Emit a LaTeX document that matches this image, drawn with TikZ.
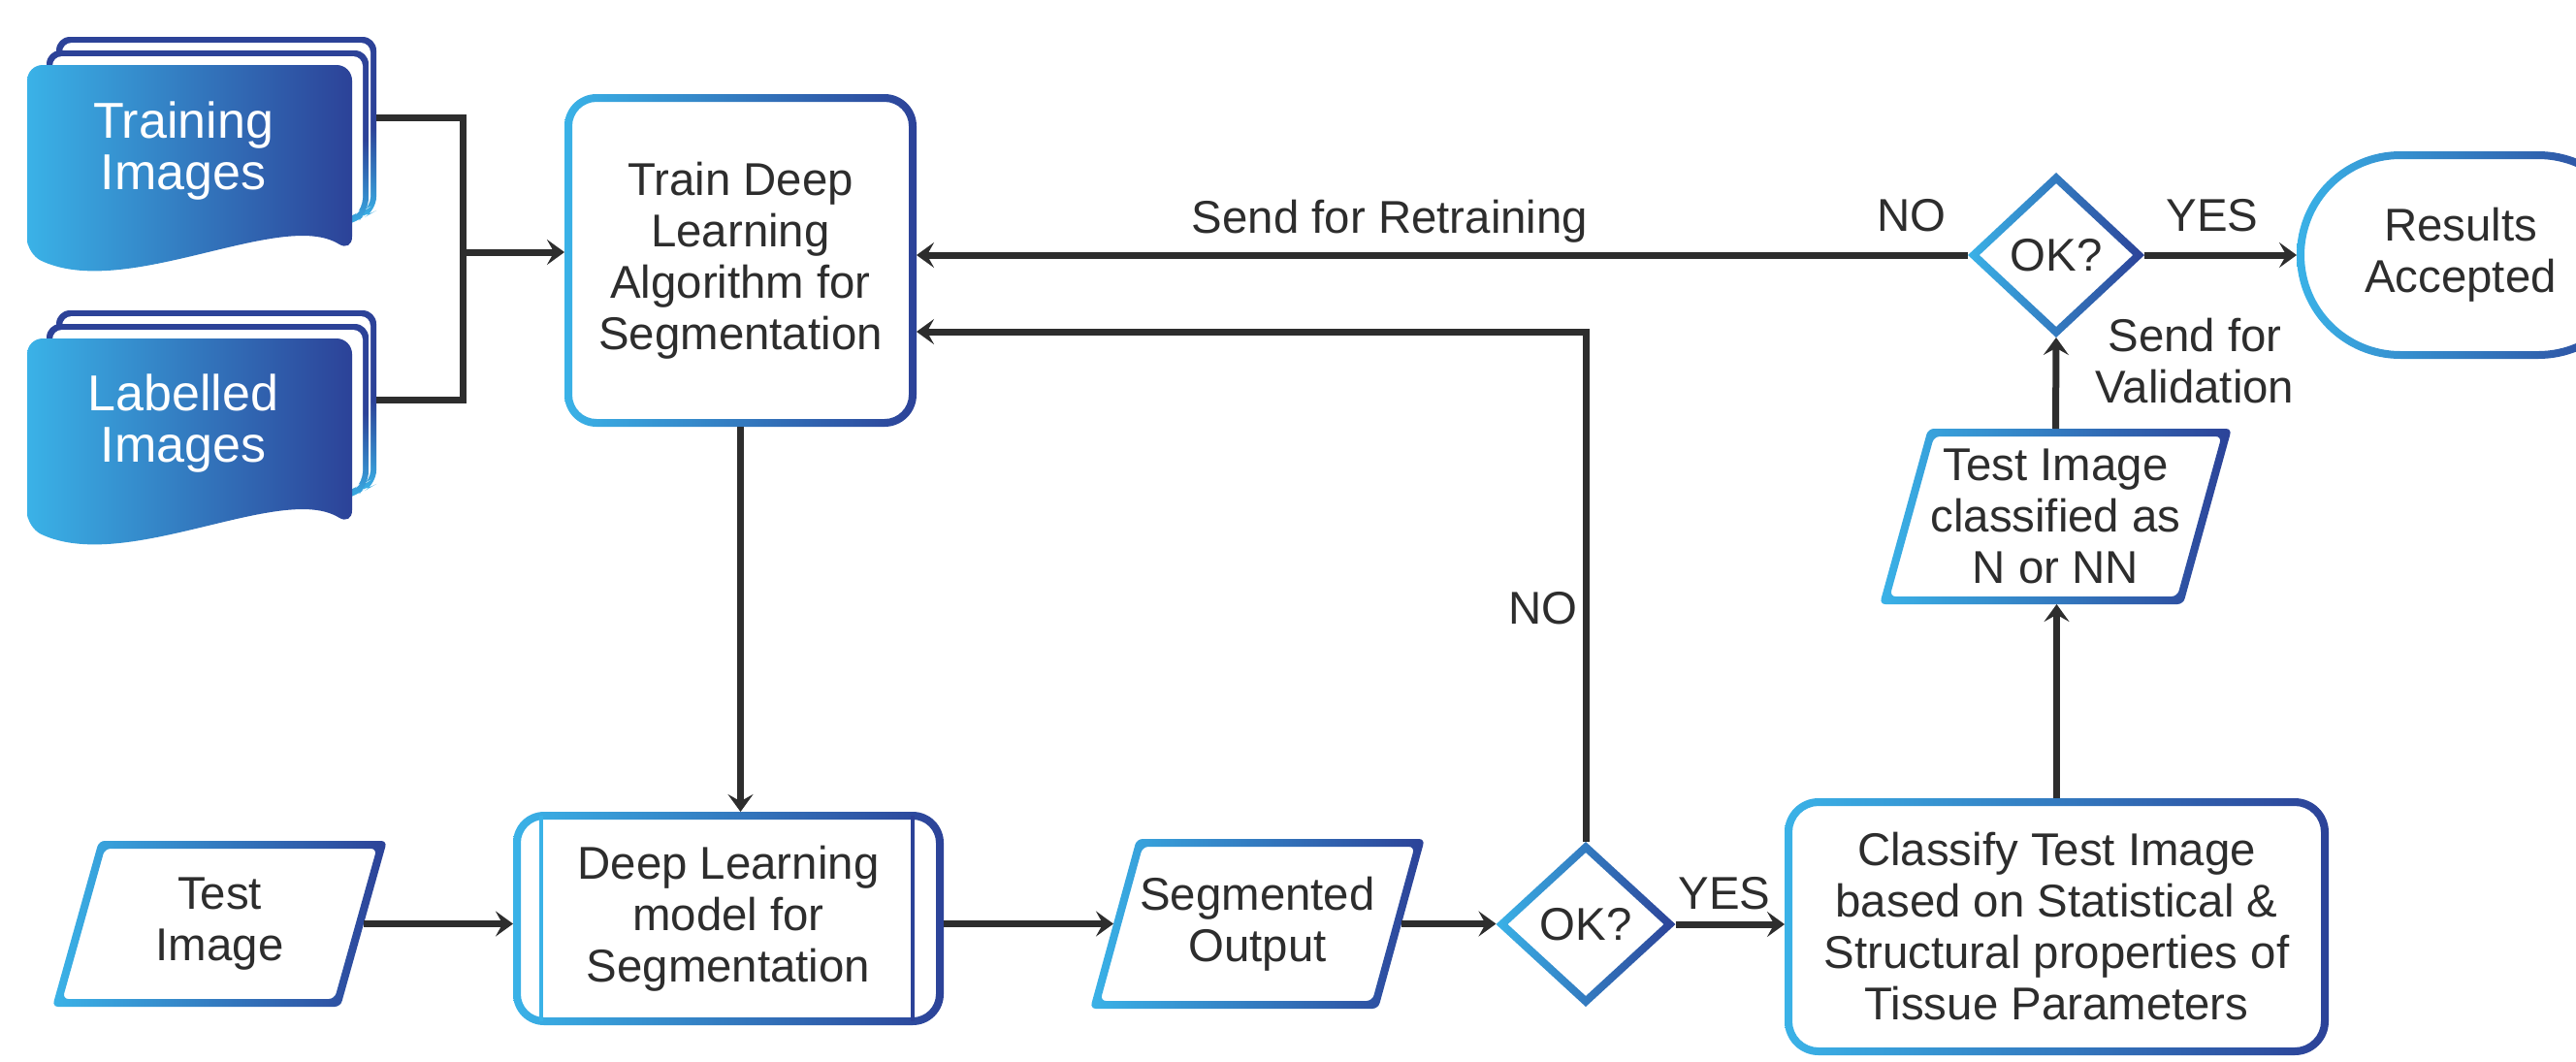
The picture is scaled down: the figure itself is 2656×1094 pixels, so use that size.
\documentclass[tikz,border=0pt]{standalone}
\usepackage{fontspec}
\setmainfont{Liberation Sans}
\usetikzlibrary{arrows.meta,shapes.geometric,calc}
\definecolor{lb}{RGB}{58,178,231}
\definecolor{db}{RGB}{44,66,152}
\definecolor{txt}{RGB}{45,45,45}
\definecolor{ln}{RGB}{45,45,45}
\newcommand\gpara[5]{%
  \pgfmathsetmacro\paH{(#5-#4)/100}%
  \pgfmathsetmacro\paS{(#2-#1)/100}%
  \pgfmathsetmacro\paDx{8*sqrt(\paH*\paH+\paS*\paS)/\paH}%
  \pgfmathsetmacro\paDs{\paS*8/\paH}%
  \shade[grad, rounded corners=1.5pt]
    (#1,#5) -- (#2,#4) -- (#2+#3,#4) -- (#1+#3,#5) -- cycle
    (#1+\paDs+\paDx,#5-8) -- (#2-\paDs+\paDx,#4+8) -- (#2+#3-\paDs-\paDx,#4+8) -- (#1+#3+\paDs-\paDx,#5-8) -- cycle;
}
\newcommand\docsheets{%
  \shade[sheet, rounded corners=3.5pt] (58,225) -- (58,38) -- (388,38) -- (388,217) -- (376,224) -- cycle;
  \fill[white, rounded corners=2.5pt] (64,219) -- (64,44) -- (382,44) -- (382,213) -- (374,218) -- cycle;
  \shade[sheet, rounded corners=3.5pt] (48,236) -- (48,52) -- (380,52) -- (380,218) -- (365,232) -- cycle;
  \fill[white, rounded corners=2.5pt] (54,230) -- (54,58) -- (374,58) -- (374,214) -- (364,224) -- cycle;
  \shade[left color=lb, right color=db, rounded corners=4pt] (28,262) -- (28,67) -- (363,67) -- (363,260) .. controls (290,215) and (130,310) .. (28,262) -- cycle;
}
\begin{document}
\begin{tikzpicture}[x=0.25pt,y=-0.25pt,
  every node/.style={inner sep=0pt, outer sep=0pt},
  lbl/.style={font=\fontsize{11.85}{13.25}\selectfont, text=txt},
  box/.style={rectangle, align=center, font=\fontsize{11.85}{13.25}\selectfont, text=txt},
  dia/.style={diamond, font=\fontsize{11.85}{13.25}\selectfont, text=txt},
  grad/.style={left color=lb, right color=db, even odd rule},
  sheet/.style={top color=db, bottom color=lb, middle color=db},
  conn/.style={draw=ln, line width=1.75pt, -{Stealth[length=4.5pt,width=6.5pt,inset=1.8pt]}},
  plain/.style={draw=ln, line width=1.75pt},
  doctext/.style={align=center, text=white, font=\fontsize{13}{13.25}\selectfont},
]
\fill[white] (0,0) rectangle (2656,1094);
\useasboundingbox (0,0) rectangle (2656,1094);
\clip (0,0) rectangle (2656,1094);

% documents
\docsheets
\begin{scope}[shift={(0,282)}]
\docsheets
\end{scope}
\node[doctext] (trnT) at (189,156) {Training\\Images};
\node[doctext] (labT) at (189,437) {Labelled\\Images};
\node[minimum width=90pt, minimum height=42pt] (trn) at (208,121) {};
\node[minimum width=90pt, minimum height=46pt] (lab) at (208,412) {};
\coordinate (jn) at (477,260);

% train box
\node[box, minimum width=90.75pt, minimum height=85.75pt] (train) at (763.5,268.5) {Train Deep\\Learning\\Algorithm for\\Segmentation};
\shade[grad, rounded corners=8.25pt] (train.north west) rectangle (train.south east)
  [rounded corners=6.25pt] ([shift={(8,8)}]train.north west) rectangle ([shift={(-8,-8)}]train.south east);

% DL model box
\node[box, minimum width=111pt, minimum height=55pt] (dl) at (751,947) {Deep Learning\\model for\\Segmentation};
\shade[grad, rounded corners=8pt] (dl.north west) rectangle (dl.south east)
  [rounded corners=6pt] ([shift={(8,8)}]dl.north west) rectangle ([shift={(-8,-8)}]dl.south east);
\draw[lb, line width=0.8pt] ($(dl.north west)+(29,4)$) -- ($(dl.south west)+(29,-4)$);
\draw[db, line width=0.8pt] ($(dl.north east)+(-32,4)$) -- ($(dl.south east)+(-32,-4)$);

% parallelograms
\gpara{54}{102}{297}{867}{1038}
\node[box, minimum width=74.25pt, minimum height=42.75pt] (testimg) at (226.5,952.5) {Test\\Image};
\gpara{1124}{1172}{297}{865}{1040}
\node[box, minimum width=74.25pt, minimum height=43.75pt] (seg) at (1296.5,952.5) {Segmented\\Output};
\gpara{1938}{1988}{313}{442}{623}
\node[box, minimum width=78.25pt, minimum height=45.25pt] (tic) at (2119.5,532.5) {Test Image\\classified as\\N or NN};

% diamonds
\node[dia, minimum width=46.25pt, minimum height=42.5pt] (ok1) at (1635,953) {OK?};
\shade[grad] (ok1.north) -- (ok1.east) -- (ok1.south) -- (ok1.west) -- cycle
  ($(ok1.center)!0.87!(ok1.north)$) -- ($(ok1.center)!0.87!(ok1.east)$) -- ($(ok1.center)!0.87!(ok1.south)$) -- ($(ok1.center)!0.87!(ok1.west)$) -- cycle;
\node[dia, minimum width=45.5pt, minimum height=42.5pt] (ok2) at (2120,263) {OK?};
\shade[grad] (ok2.north) -- (ok2.east) -- (ok2.south) -- (ok2.west) -- cycle
  ($(ok2.center)!0.87!(ok2.north)$) -- ($(ok2.center)!0.87!(ok2.east)$) -- ($(ok2.center)!0.87!(ok2.south)$) -- ($(ok2.center)!0.87!(ok2.west)$) -- cycle;

% classify box
\node[box, minimum width=140.25pt, minimum height=66.25pt] (cls) at (2120.5,955.5) {Classify Test Image\\based on Statistical \&\\Structural properties of\\Tissue Parameters};
\shade[grad, rounded corners=8.75pt] (cls.north west) rectangle (cls.south east)
  [rounded corners=6.75pt] ([shift={(8,8)}]cls.north west) rectangle ([shift={(-8,-8)}]cls.south east);

% results terminal
\node[box, minimum width=84.5pt, minimum height=53.5pt] (res) at (2537,263) {Results\\Accepted};
\shade[grad, rounded corners=26.75pt] (res.north west) rectangle ([shift={(18,0)}]res.south east)
  [rounded corners=24.75pt] ([shift={(8,8)}]res.north west) rectangle ([shift={(10,-8)}]res.south east);

% connectors
\draw[plain] (trn.east) -| (jn);
\draw[plain] (lab.east) -| (jn);
\draw[conn] (jn) -- (jn -| train.west);
\draw[conn] (train.south) -- (train.south |- dl.north);
\draw[conn] (testimg.east) -- (testimg.east -| dl.west);
\draw[conn] (dl.east |- seg.west) -- (seg.west);
\draw[conn] (seg.east) -- (seg.east -| ok1.west);
\draw[conn] (ok1.east) -- (ok1.east -| cls.west);
\draw[conn] (cls.north) -- (cls.north |- tic.south);
\draw[conn] (tic.north) -- (ok2.south);
\draw[conn] (ok2.east) -- (ok2.east -| res.west);
\draw[conn] (ok2.west) -- (ok2.west -| train.east);
\coordinate (noY) at (1200,342);
\draw[conn] (ok1.north) |- (noY -| train.east);

% labels
\node[lbl, anchor=base] (lRetrain) at (1433,240) {Send for Retraining};
\node[lbl, anchor=base] (lNo1) at (1971,238) {NO};
\node[lbl, anchor=base] (lYes1) at (2281,238) {YES};
\node[lbl, align=center] (lVal) at (2263,372) {Send for\\Validation};
\node[lbl, anchor=base] (lNo2) at (1591,643) {NO};
\node[lbl, anchor=base] (lYes2) at (1778,937) {YES};
\end{tikzpicture}
\end{document}
